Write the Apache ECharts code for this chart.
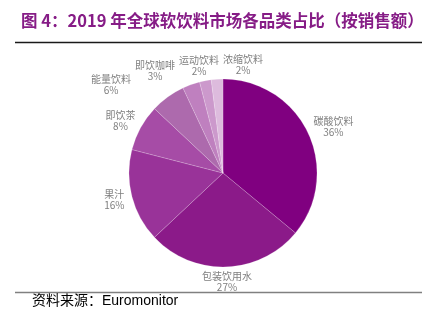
<!DOCTYPE html>
<html><head><meta charset="utf-8">
<script src="https://cdn.jsdelivr.net/npm/echarts@6/dist/echarts.min.js"></script>
<style>html,body{margin:0;padding:0;background:#fff}#c{width:433px;height:321px}</style>
</head><body><div id="c"></div>
<script>
const categories = ['碳酸饮料','包装饮用水','果汁','即饮茶','能量饮料','即饮咖啡','运动饮料','浓缩饮料'];
const shares = [36, 27, 16, 8, 6, 3, 2, 2];
const sliceColors = ['#800080','#8B1A89','#993399','#A64CA6','#AD6AAD','#BF80BF','#CC99CC','#DDBBDD'];
const titleText = '图 4：2019 年全球软饮料市场各品类占比（按销售额）';
const sourceText = '资料来源：Euromonitor';

const CX = 223, CY = 173, R = 94, GAP = 4, LH = 11, FS = 10;
const FONT = '"Noto Sans CJK SC", sans-serif';

// label placement (outside end, like the original), computed from the data angles
const mctx = document.createElement('canvas').getContext('2d');
mctx.font = FS + 'px ' + FONT;
const total = shares.reduce((a, b) => a + b, 0);
let acc = 0;
const boxes = shares.map((v, i) => {
  const mid = (acc + v / 2) / total * 2 * Math.PI; acc += v;
  const ux = Math.sin(mid), uy = -Math.cos(mid);
  const w = Math.max(mctx.measureText(categories[i]).width, mctx.measureText(v + '%').width);
  const h = LH * 2;
  const pw = w + 8, ph = h;
  return { x: CX + (R + GAP) * ux + ux * pw / 2, y: CY + (R + GAP) * uy + uy * ph / 2, w, h, ux };
});
const PAD = 4;
for (let it = 0; it < 200; it++) {
  let moved = false;
  for (let i = 0; i < boxes.length - 1; i++) {
    const a = boxes[i], b = boxes[i + 1];
    const ox = (a.w + b.w) / 2 + PAD - Math.abs(a.x - b.x);
    const oy = (a.h + b.h) / 2 - Math.abs(a.y - b.y);
    if (ox > 0.01 && oy > 0.01) {
      const left = a.x <= b.x ? a : b, right = left === a ? b : a;
      if (oy < a.h / 2) {
        const side = Math.abs(a.ux) > Math.abs(b.ux) ? a : b;
        if (side === left) side.x -= ox; else side.x += ox;
      } else {
        left.x -= ox / 2; right.x += ox / 2;
      }
      moved = true;
    }
  }
  if (!moved) break;
}

const chart = echarts.init(document.getElementById('c'), null, { renderer: 'canvas' });
chart.setOption({
  animation: false,
  backgroundColor: '#fff',
  title: {
    text: titleText, left: 16, top: 7,
    textStyle: { color: '#861C86', fontSize: 16.5, fontWeight: 'bold', fontFamily: FONT }
  },
  graphic: [
    { type: 'line', shape: { x1: 15, y1: 42.5, x2: 422, y2: 42.5 }, style: { stroke: '#1a1a1a', lineWidth: 1.3 } },
    { type: 'line', shape: { x1: 15, y1: 292.5, x2: 422, y2: 292.5 }, style: { stroke: '#808080', lineWidth: 1.3 } },
    { type: 'text', left: 32, top: 294.5, style: { text: sourceText, fill: '#000', fontSize: 14, fontFamily: '"Liberation Sans", "Noto Sans CJK SC", sans-serif' } }
  ],
  series: [{
    type: 'pie',
    center: [CX, CY],
    radius: R,
    startAngle: 90,
    clockwise: true,
    avoidLabelOverlap: false,
    data: categories.map((n, i) => ({ name: n, value: shares[i], itemStyle: { color: sliceColors[i] } })),
    itemStyle: { borderColor: 'rgba(255,255,255,0.35)', borderWidth: 0.5 },
    label: {
      show: true, position: 'outside',
      formatter: p => p.name + '\n' + p.value + '%',
      color: '#7f7f7f', fontSize: FS, lineHeight: LH, fontFamily: FONT
    },
    labelLine: { show: false },
    labelLayout: p => { const b = boxes[p.dataIndex]; return { x: b.x, y: b.y, align: 'center', verticalAlign: 'middle' }; },
    emphasis: { disabled: true }
  }]
});
</script></body></html>
